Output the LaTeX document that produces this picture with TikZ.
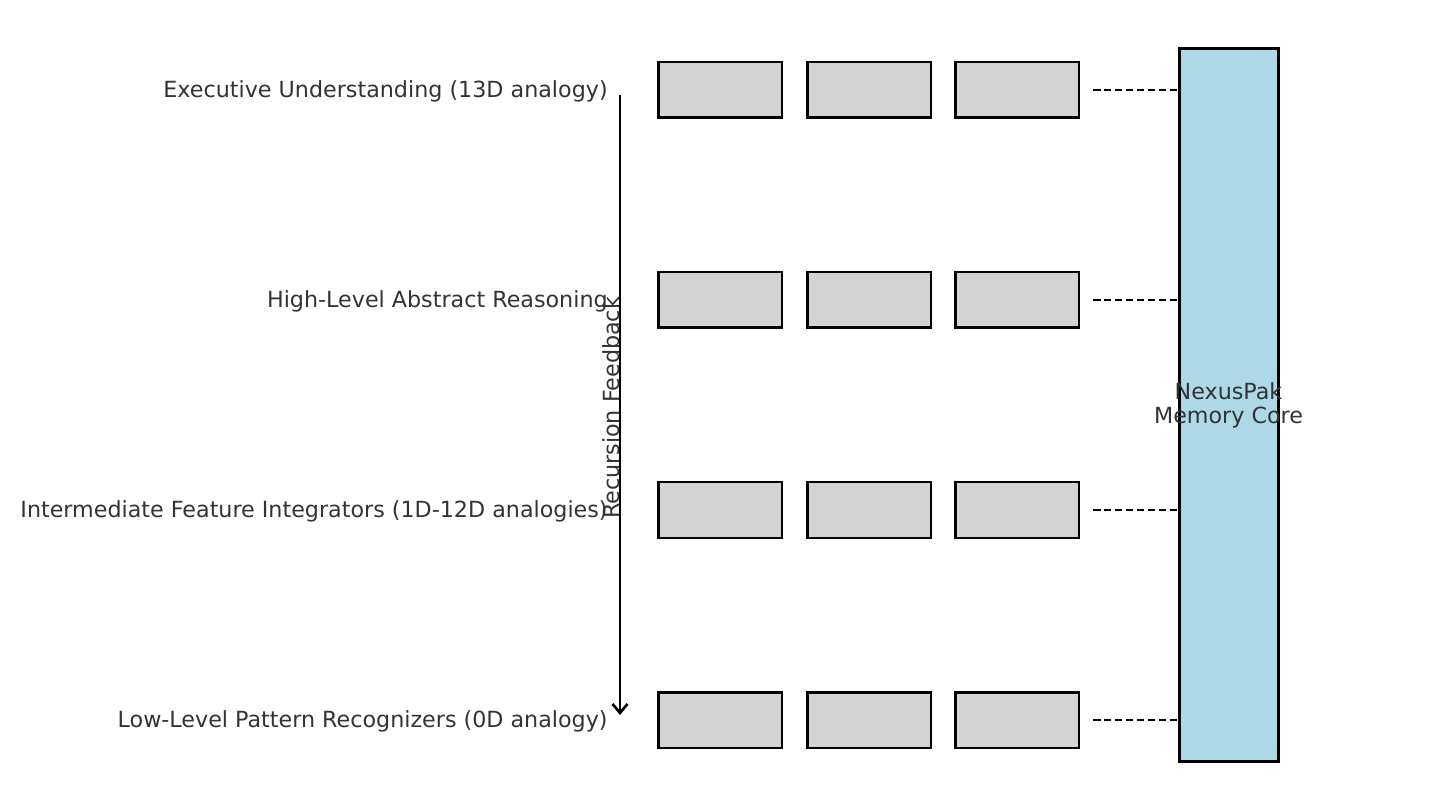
\documentclass[tikz,border=0pt]{standalone}
\usepackage{fontspec}
\setmainfont{DejaVu Sans}
\usepackage{tikz}
\usetikzlibrary{arrows.meta, positioning}
\definecolor{labelgray}{HTML}{333333}
\definecolor{cellgray}{HTML}{D3D3D3}
\definecolor{coreblue}{HTML}{ADD8E6}

\begin{document}
\begin{tikzpicture}[x=0.02cm, y=-0.02cm,
    cell/.style={draw, line width=1.7pt, fill=cellgray, minimum width=2.48cm, minimum height=1.12cm, inner sep=0pt},
    lvl/.style={text=labelgray, font=\fontsize{12.65}{15}\selectfont, anchor=east, inner sep=0pt},
    link/.style={line width=1pt, dash pattern=on 4pt off 2.2pt}]
    \useasboundingbox (0,0) rectangle (1446,810);
    % memory core
    \node[draw, line width=1.7pt, fill=coreblue, minimum width=1.98cm, minimum height=14.28cm, inner sep=0pt] (core) at (1228.5,405) {};
    \node[align=center, text=labelgray, font=\fontsize{12.65}{13.6}\selectfont, inner sep=0pt] (corelabel) at (core.center) {NexusPak\\Memory Core};
    % levels
    \foreach \y/\lv/\txt in {90/exec/{Executive Understanding (13D analogy)},
                             300/high/{High-Level Abstract Reasoning},
                             510/mid/{Intermediate Feature Integrators (1D-12D analogies)},
                             720/low/{Low-Level Pattern Recognizers (0D analogy)}} {
        \node[lvl] (\lv) at (608,\y+1) {\txt};
        \node[cell] (\lv1) at (720,\y) {};
        \node[cell] (\lv2) at (869,\y) {};
        \node[cell] (\lv3) at (1017,\y) {};
        \draw[link] ([xshift=0.26cm]\lv3.east) -- (core.west |- \lv3.east);
    }
    % feedback arrow
    \coordinate (fbtop) at (620,95);
    \coordinate (fbbot) at (620,715);
    \draw[line width=1.5pt, -{Straight Barb[length=1.8mm, width=3mm]}] (fbtop) -- (fbbot);
    \node[rotate=90, anchor=base, inner sep=0pt, text=labelgray, font=\fontsize{12.65}{15}\selectfont] (fblabel) at (619,408) {Recursion Feedback};
\end{tikzpicture}
\end{document}
